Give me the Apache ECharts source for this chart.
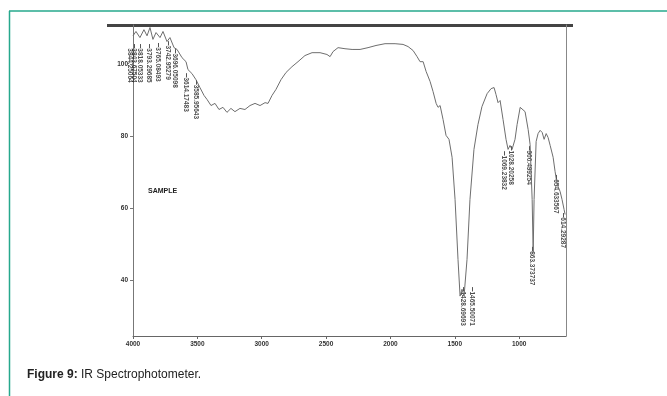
<!DOCTYPE html>
<html>
<head>
<meta charset="utf-8">
<script src="https://cdn.jsdelivr.net/npm/echarts@6/dist/echarts.min.js"></script>
<style>
  html, body { margin: 0; padding: 0; background: #fff; }
  #chart { width: 667px; height: 396px; }
</style>
</head>
<body>
<div id="chart"></div>
<script>
// wavenumber (cm-1) and transmittance (%)
const wavenumbers = [
  4000, 3977, 3946, 3915, 3891, 3868, 3845, 3821, 3790, 3767, 3736, 3713, 3681, 3658,
  3619, 3588, 3573, 3542, 3511, 3480, 3448, 3425, 3394, 3363, 3332, 3301, 3270, 3239,
  3208, 3169, 3130, 3091, 3052, 3013, 2974, 2951, 2920, 2889, 2850, 2811, 2765, 2718,
  2664, 2609, 2547, 2493, 2469, 2446, 2407, 2353, 2298, 2236, 2174, 2112, 2042, 1964,
  1902, 1863, 1824, 1793, 1770, 1746, 1723, 1692, 1669, 1645, 1630, 1614, 1591, 1568,
  1545, 1521, 1498, 1475, 1459, 1444, 1428, 1405, 1382, 1351, 1320, 1289, 1249, 1218,
  1195, 1180, 1164, 1148, 1125, 1102, 1086, 1071, 1055, 1032, 1016, 992, 977, 954,
  930, 915, 899, 891, 884, 868, 853, 837, 821, 806, 790, 775, 759, 736, 721, 705,
  682, 667, 651, 643
];
const transmittance = [
  108.0, 109.2, 107.5, 109.7, 108.0, 110.3, 107.0, 108.9, 107.5, 109.2, 106.4, 107.5, 104.7, 104.2,
  101.9, 100.8, 98.6, 97.5, 95.8, 93.6, 91.4, 90.3, 88.6, 89.2, 87.5, 88.1, 86.7, 87.8,
  86.9, 87.8, 87.5, 88.6, 89.2, 88.6, 89.4, 89.2, 91.4, 93.1, 95.8, 97.8, 99.4, 100.8,
  102.5, 103.3, 103.3, 102.8, 102.2, 103.6, 104.7, 104.4, 104.2, 104.2, 104.7, 105.3, 105.8, 105.8,
  105.6, 105.0, 103.9, 102.2, 100.8, 100.8, 98.1, 95.3, 92.5, 89.2, 88.1, 88.6, 84.7, 80.3,
  79.2, 74.2, 62.5, 45.8, 35.6, 37.5, 35.6, 45.8, 62.5, 76.4, 83.3, 88.3, 91.9, 93.3,
  93.6, 91.7, 89.4, 90.0, 84.7, 79.2, 76.4, 77.5, 76.4, 79.2, 83.3, 88.1, 88.3, 86.9,
  81.9, 77.8, 62.5, 47.8, 62.5, 78.6, 80.8, 81.7, 81.1, 79.2, 80.8, 79.7, 77.5, 74.2, 70.3, 66.7,
  64.7, 62.5, 59.7, 58.3
];

// peak annotations: printed text, where the label hangs (wavenumber, transmittance)
const peakNames = [
  '3844.25064', '3843.67504', '3818.05333', '3793.29685', '3765.08493', '3742.95279',
  '3696.05098', '3614.17483', '3585.95643',
  '1465.50071', '1428.69693', '1069.23832', '1028.20258', '900.499254', '863.373737',
  '654.633567', '614.29287'
];
const peakWn = [
  4026, 3992, 3946, 3876, 3806, 3728, 3674, 3588, 3511,
  1366, 1436, 1118, 1063, 923, 899, 713, 659
];
const peakT = [
  104.5, 104.5, 104.5, 104.5, 104.8, 105.3, 103.1, 96.4, 94.4,
  36.9, 36.9, 74.7, 76.1, 76.1, 48.1, 68.1, 57.5
];

const xTicks = [4000, 3500, 3000, 2500, 2000, 1500, 1000];
const yTicks = [40, 60, 80, 100];

const chart = echarts.init(document.getElementById('chart'), null, { renderer: 'canvas' });

const tickFont = {
  color: '#333',
  fontFamily: 'Liberation Sans',
  fontWeight: 'bold',
  fontSize: 6.5,
  formatter: (v) => String(v)
};

chart.setOption({
  backgroundColor: '#fff',
  animation: false,
  grid: { left: 133, right: 101, top: 25, bottom: 60 },
  xAxis: {
    type: 'value',
    inverse: true,
    min: 636,
    max: 4000,
    axisLine: { show: true, onZero: false, lineStyle: { color: '#666', width: 1 } },
    axisTick: { show: true, customValues: xTicks, length: 3, lineStyle: { color: '#666' } },
    axisLabel: { customValues: xTicks, margin: 5, ...tickFont },
    splitLine: { show: false }
  },
  yAxis: [
    {
      type: 'value',
      min: 24.5,
      max: 111,
      axisLine: { show: true, lineStyle: { color: '#777', width: 1 } },
      axisTick: { show: true, customValues: yTicks, length: 3, lineStyle: { color: '#777' } },
      axisLabel: { customValues: yTicks, margin: 5, ...tickFont },
      splitLine: { show: false }
    },
    {
      type: 'value',
      position: 'right',
      min: 24.5,
      max: 111,
      axisLine: { show: true, lineStyle: { color: '#888', width: 1 } },
      axisTick: { show: false },
      axisLabel: { show: false },
      splitLine: { show: false }
    }
  ],
  series: [
    {
      name: 'SAMPLE',
      type: 'line',
      data: wavenumbers.map((w, i) => [w, transmittance[i]]),
      showSymbol: false,
      lineStyle: { color: '#6e6e6e', width: 1 },
      markLine: {
        silent: true,
        symbol: 'none',
        label: { show: false },
        lineStyle: { color: '#555', width: 1, type: 'solid' },
        data: peakNames.map((n, i) => [
          { coord: [peakWn[i], peakT[i] + 1.2] },
          { coord: [peakWn[i], peakT[i]] }
        ])
      }
    },
    {
      name: 'peaks',
      type: 'scatter',
      clip: false,
      symbolSize: 0,
      data: peakNames.map((n, i) => ({ value: [peakWn[i], peakT[i]], name: n })),
      label: {
        show: true,
        position: 'inside',
        rotate: -90,
        align: 'left',
        verticalAlign: 'middle',
        formatter: (p) => p.name,
        color: '#222',
        fontFamily: 'Liberation Sans',
        fontWeight: 'bold',
        fontSize: 6.5
      }
    }
  ],
  graphic: [
    // outer figure frame
    { type: 'line', shape: { x1: 9.5, y1: 11, x2: 9.5, y2: 396 }, style: { stroke: '#26a88d', lineWidth: 1.5 } },
    { type: 'line', shape: { x1: 9, y1: 11, x2: 667, y2: 11 }, style: { stroke: '#26a88d', lineWidth: 1.5 } },
    // dark top edge of the scanned sheet
    { type: 'rect', shape: { x: 107, y: 24, width: 466, height: 3 }, style: { fill: '#444' } },
    {
      type: 'text',
      left: 148,
      top: 188,
      style: { text: 'SAMPLE', fill: '#222', font: 'bold 7px "Liberation Sans"' }
    },
    {
      type: 'text',
      left: 27,
      top: 369,
      style: {
        text: '{b|Figure 9:} IR Spectrophotometer.',
        fill: '#222',
        font: '12px "Liberation Sans"',
        rich: {
          b: { fontWeight: 'bold', fontSize: 12, fontFamily: 'Liberation Sans', fill: '#222' }
        }
      }
    }
  ]
});
</script>
</body>
</html>
